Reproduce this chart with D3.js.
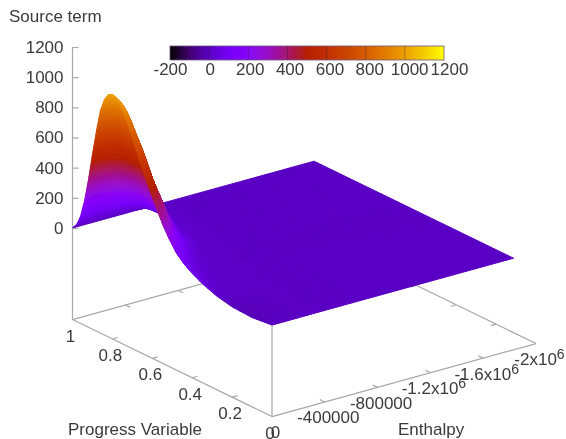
<!DOCTYPE html>
<html>
<head>
<meta charset="utf-8">
<script src="https://cdn.jsdelivr.net/npm/d3@7"></script>
<style>
body { margin: 0; background: #fff; }
text { font-family: "Liberation Sans", Arial, sans-serif; font-size: 17px; fill: #3a3a3a; }
</style>
</head>
<body>
<div id="chart"></div>
<script>
// values
const progressValues = [1, .98, .96, .94, .92, .9, .88, .86, .84, .82, .8, .78, .76, .74, .72, .7, .68, .66, .64, .62, .6, .58, .55, .52, .48, .44, .4, .35, .28, .2, .1, 0];
const enthalpyValues = [0, -50000, -100000, -150000, -200000, -300000, -400000, -500000, -600000, -700000, -1830000];

// one row per enthalpy value, one column per progress value
const sourceTerm = [
	[0, 35, 100, 215, 370, 550, 720, 870, 955, 1000, 1014, 1005, 975, 925, 865, 795, 720, 650, 585, 525, 465, 405, 320, 250, 170, 120, 85, 50, 15, -8, -15, 0],
	[0, 57, 134, 263, 425, 589, 747, 864, 925, 955, 960, 945, 912, 865, 805, 745, 676, 604, 542, 481, 418, 350, 240, 170, 110, 75, 50, 28, 8, -8, -14, 0],
	[0, 71, 159, 284, 431, 573, 702, 782, 828, 845, 843, 821, 782, 736, 690, 631, 562, 504, 453, 396, 320, 260, 170, 115, 65, 45, 30, 16, 4, -6, -10, 0],
	[0, 84, 168, 289, 400, 511, 598, 646, 674, 680, 670, 646, 613, 577, 535, 484, 430, 386, 346, 280, 220, 170, 110, 70, 40, 27, 18, 9, 2, -4, -7, 0],
	[0, 84, 156, 250, 329, 406, 458, 488, 500, 500, 488, 468, 441, 415, 381, 339, 303, 272, 220, 170, 130, 95, 60, 35, 20, 12, 8, 4, 1, -3, -5, 0],
	[0, 70, 120, 165, 205, 235, 250, 255, 250, 240, 225, 205, 185, 165, 145, 126, 110, 90, 70, 50, 35, 25, 15, 8, 5, 3, 2, 1, 0, -1, -2, 0],
	[0, 60, 90, 110, 125, 135, 135, 130, 120, 105, 90, 75, 62, 50, 40, 34, 28, 22, 16, 11, 8, 6, 4, 2, 1, 1, 1, 0, 0, 0, 0, 0],
	[0, 25, 35, 40, 42, 42, 40, 38, 34, 30, 25, 20, 15, 12, 9, 7, 5, 4, 3, 2, 2, 1, 1, 0, 0, 0, 0, 0, 0, 0, 0, 0],
	[0, 5, 8, 10, 10, 10, 9, 8, 7, 6, 5, 4, 3, 2, 2, 1, 1, 1, 0, 0, 0, 0, 0, 0, 0, 0, 0, 0, 0, 0, 0, 0],
	[0, 0, 0, 0, 0, 0, 0, 0, 0, 0, 0, 0, 0, 0, 0, 0, 0, 0, 0, 0, 0, 0, 0, 0, 0, 0, 0, 0, 0, 0, 0, 0],
	[0, 0, 0, 0, 0, 0, 0, 0, 0, 0, 0, 0, 0, 0, 0, 0, 0, 0, 0, 0, 0, 0, 0, 0, 0, 0, 0, 0, 0, 0, 0, 0]
];

const zTicks = [0, 200, 400, 600, 800, 1000, 1200];
const progressTicks = [1, .8, .6, .4, .2, 0];
const progressLabels = ["1", "0.8", "0.6", "0.4", "0.2", "0"];
const enthalpyTicks = [0, -400000, -800000, -1200000, -1600000, -2000000];
const enthalpyLabels = ["0", "-400000", "-800000", "-1.2x10^6", "-1.6x10^6", "-2x10^6"];
const colorTicks = [-200, 0, 200, 400, 600, 800, 1000, 1200];
const colorStops = [-200, -100, 0, 100, 200, 300, 400, 500, 600, 700, 800, 900, 1000, 1100, 1200];
const colorValues = ["#000000", "#44016f", "#5a00c4", "#7603f8", "#8806f7", "#980cc7", "#a7146f", "#b42000", "#c12f00", "#cc4400", "#d75d00", "#e27c00", "#eca000", "#f6cc00", "#ffff00"];

const width = 566, height = 439;
const axisColor = "#a8a8a8";
const zBase = -607;

const svg = d3.select("#chart").append("svg")
	.attr("width", width)
	.attr("height", height);

svg.append("filter").attr("id", "soft")
	.append("feGaussianBlur").attr("stdDeviation", 0.45);

const chart = svg.append("g").attr("filter", "url(#soft)");

// 3d projection is three linear scales added up, front corner is the origin
const originX = 272, originY = 325;
const progressX = d3.scaleLinear([0, 1], [0, -199.5]);
const progressY = d3.scaleLinear([0, 1], [0, -97]);
const enthalpyX = d3.scaleLinear([0, -2000000], [0, 264]);
const enthalpyY = d3.scaleLinear([0, -2000000], [0, -73]);
const zY = d3.scaleLinear([0, 1200], [0, -181]);

function project(pv, h, z) {
	return [originX + progressX(pv) + enthalpyX(h), originY + progressY(pv) + enthalpyY(h) + zY(z)];
}

const color = d3.scaleLinear().domain(colorStops).range(colorValues).clamp(true);

// box lines under the surface
function boxLine(a, b) {
	chart.append("line")
		.attr("x1", a[0]).attr("y1", a[1])
		.attr("x2", b[0]).attr("y2", b[1])
		.attr("stroke", axisColor)
		.attr("stroke-width", 1.2);
}

const frontCorner = project(0, 0, zBase);
const leftCorner = project(1, 0, zBase);
const rightCorner = project(0, -2000000, zBase);
const backCorner = project(1, -2000000, zBase);
boxLine(leftCorner, frontCorner);
boxLine(frontCorner, rightCorner);
boxLine(leftCorner, backCorner);
boxLine(rightCorner, backCorner);
boxLine(frontCorner, project(0, 0, 0));
boxLine(leftCorner, project(1, 0, 1200));

// small ticks on the floor, pointing into the box
progressTicks.slice(1, -1).forEach(pv => {
	boxLine(project(pv, 0, zBase), project(pv, -40000, zBase));
	boxLine(project(pv, -2000000, zBase), project(pv, -1960000, zBase));
});
enthalpyTicks.slice(1, -1).forEach(h => {
	boxLine(project(0, h, zBase), project(.025, h, zBase));
	boxLine(project(1, h, zBase), project(.975, h, zBase));
});

// surface, every cell split a little so the colour runs smooth like pm3d
const quads = [];
const lerp = (a, b, t) => a + (b - a) * t;
for (let r = 0; r < enthalpyValues.length - 1; r++) {
	for (let c = 0; c < progressValues.length - 1; c++) {
		const z00 = sourceTerm[r][c], z01 = sourceTerm[r][c + 1];
		const z10 = sourceTerm[r + 1][c], z11 = sourceTerm[r + 1][c + 1];
		const flat = z00 === z01 && z00 === z10 && z00 === z11;
		const n = flat ? 1 : (r < 5 ? 8 : 4);
		for (let i = 0; i < n; i++) {
			for (let j = 0; j < n; j++) {
				const corners = [[i, j], [i + 1, j], [i + 1, j + 1], [i, j + 1]].map(([a, b]) => {
					const u = a / n, w = b / n;
					const pv = lerp(progressValues[c], progressValues[c + 1], w);
					const h = lerp(enthalpyValues[r], enthalpyValues[r + 1], u);
					const z = lerp(lerp(z00, z01, w), lerp(z10, z11, w), u);
					return { pv, h, z };
				});
				quads.push({
					points: corners.map(p => project(p.pv, p.h, p.z).join(",")).join(" "),
					z: d3.mean(corners, p => p.z),
					depth: d3.mean(corners, p => project(p.pv, p.h, 0)[1])
				});
			}
		}
	}
}
quads.sort((a, b) => a.depth - b.depth);

chart.append("g").selectAll("polygon")
	.data(quads)
	.join("polygon")
	.attr("points", d => d.points)
	.attr("fill", d => color(d.z))
	.attr("stroke", d => color(d.z))
	.attr("stroke-width", 1)
	.attr("stroke-linejoin", "round");

// z axis
const zAxisScale = d3.scaleLinear([0, 1200], [project(1, 0, 0)[1], project(1, 0, 1200)[1]]);
const zAxis = chart.append("g")
	.attr("transform", `translate(${leftCorner[0]},0)`)
	.call(d3.axisLeft(zAxisScale).tickValues(zTicks).tickFormat(d => String(d)).tickSize(-6).tickSizeOuter(0).tickPadding(9));
zAxis.select(".domain").remove();
zAxis.selectAll(".tick line").attr("stroke", axisColor).attr("stroke-width", 1.2);
zAxis.selectAll("text").attr("font-size", null).attr("font-family", null).attr("fill", null);

// floor tick labels
chart.append("g").selectAll("text")
	.data(progressTicks)
	.join("text")
	.attr("x", d => project(d, 0, zBase)[0] - 2)
	.attr("y", d => project(d, 0, zBase)[1] + 16)
	.attr("dy", "0.35em")
	.attr("text-anchor", "middle")
	.text((d, i) => progressLabels[i]);

const enthalpyText = chart.append("g").selectAll("text")
	.data(enthalpyTicks)
	.join("text")
	.attr("x", d => project(0, d, zBase)[0] + 3.5)
	.attr("y", d => project(0, d, zBase)[1] + 15.5)
	.attr("dy", "0.35em")
	.attr("text-anchor", "middle");
enthalpyText.each(function(d, i) {
	const parts = enthalpyLabels[i].split("^");
	d3.select(this).append("tspan").text(parts[0]);
	if (parts[1]) {
		d3.select(this).append("tspan")
			.attr("dy", -6)
			.style("font-size", "14px")
			.text(parts[1]);
	}
});

// titles
chart.append("text").attr("x", 9).attr("y", 22).text("Source term");
chart.append("text").attr("x", 68).attr("y", 435).text("Progress Variable");
chart.append("text").attr("x", 398).attr("y", 435).text("Enthalpy");

// colour bar
const barX = d3.scaleLinear([-200, 1200], [170, 444]);
const barLabelX = d3.scaleLinear([-200, 1200], [170, 449]);
const barTop = 46, barHeight = 14;

const gradient = svg.append("linearGradient").attr("id", "barGradient");
gradient.selectAll("stop")
	.data(colorStops)
	.join("stop")
	.attr("offset", d => (d + 200) / 1400)
	.attr("stop-color", d => color(d));

const bar = chart.append("g");
bar.append("rect")
	.attr("x", barX(-200)).attr("y", barTop)
	.attr("width", barX(1200) - barX(-200)).attr("height", barHeight)
	.attr("fill", "url(#barGradient)")
	.attr("stroke", "#6b5a80")
	.attr("stroke-width", 0.8);
bar.selectAll("line")
	.data(colorTicks.slice(1, -1))
	.join("line")
	.attr("x1", barX).attr("x2", barX)
	.attr("y1", barTop).attr("y2", barTop + barHeight)
	.attr("stroke", "#332244")
	.attr("stroke-opacity", 0.45)
	.attr("stroke-width", 0.8);

const barAxis = chart.append("g")
	.attr("transform", `translate(0,${barTop + barHeight})`)
	.call(d3.axisBottom(barLabelX).tickValues(colorTicks).tickFormat(d => String(d)).tickSize(0).tickPadding(3));
barAxis.select(".domain").remove();
barAxis.selectAll("text").attr("font-size", null).attr("font-family", null).attr("fill", null);
</script>
</body>
</html>
